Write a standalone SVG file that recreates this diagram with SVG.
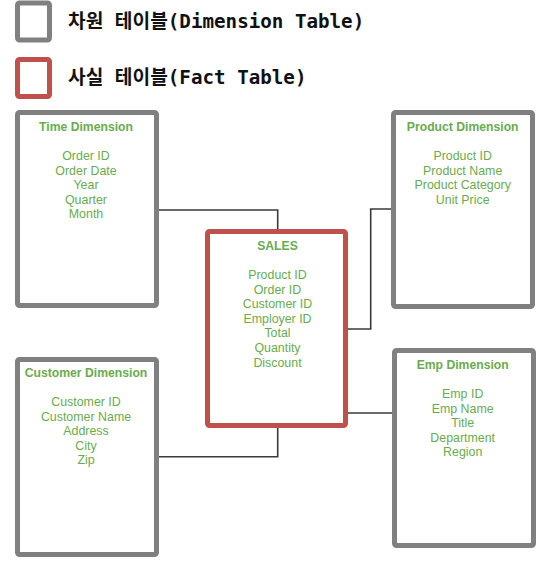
<svg xmlns="http://www.w3.org/2000/svg" width="552" height="573" viewBox="0 0 552 573">
<style>
.dim{fill:#fff;stroke:#808080;stroke-width:5}
.fact{fill:#fff;stroke:#c0504d;stroke-width:5}
.t{font-family:"Liberation Sans",Arial,sans-serif;font-size:12.2px;font-weight:bold;fill:#6aab4f;text-anchor:middle}
.i{font-family:"Liberation Sans",Arial,sans-serif;font-size:12.4px;fill:#6aab4f;text-anchor:middle}
.lg{font-family:"DejaVu Sans Mono","Noto Sans CJK KR",monospace;font-size:19.2px;font-weight:bold;fill:#111}
.c{fill:none;stroke:#3a3a3a;stroke-width:1.6}
</style>
<g id="legend">
<rect x="17.5" y="3" width="32" height="37" rx="2" fill="#fff" stroke="#808080" stroke-width="5"/>
<text class="lg" x="68" y="27.5">차원 테이블(Dimension Table)</text>
<rect x="17.5" y="59.5" width="32" height="37" rx="2" fill="#fff" stroke="#c0504d" stroke-width="5"/>
<text class="lg" x="68" y="83.5">사실 테이블(Fact Table)</text>
</g>
<g id="connectors">
<path class="c" d="M159 210H277.7V229"/>
<path class="c" d="M348 329H370.7V209H391"/>
<path class="c" d="M348 413H392"/>
<path class="c" d="M159 456.7H277.7V428"/>
</g>
<g id="time">
<rect class="dim" x="17.5" y="112.5" width="139" height="193" rx="2"/>
<text class="t" x="86" y="130.5">Time Dimension</text>
<text class="i" x="86" y="160">Order ID</text>
<text class="i" x="86" y="174.5">Order Date</text>
<text class="i" x="86" y="189">Year</text>
<text class="i" x="86" y="203.5">Quarter</text>
<text class="i" x="86" y="218">Month</text>
</g>
<g id="product">
<rect class="dim" x="393.5" y="112.5" width="139" height="194" rx="2"/>
<text class="t" x="462.7" y="130.5">Product Dimension</text>
<text class="i" x="462.7" y="160">Product ID</text>
<text class="i" x="462.7" y="174.5">Product Name</text>
<text class="i" x="462.7" y="189">Product Category</text>
<text class="i" x="462.7" y="203.5">Unit Price</text>
</g>
<g id="sales">
<rect class="fact" x="207.5" y="231.5" width="138" height="194" rx="2"/>
<text class="t" x="277.5" y="250">SALES</text>
<text class="i" x="277.5" y="279">Product ID</text>
<text class="i" x="277.5" y="293.6">Order ID</text>
<text class="i" x="277.5" y="308.2">Customer ID</text>
<text class="i" x="277.5" y="322.8">Employer ID</text>
<text class="i" x="277.5" y="337.4">Total</text>
<text class="i" x="277.5" y="352">Quantity</text>
<text class="i" x="277.5" y="366.6">Discount</text>
</g>
<g id="customer">
<rect class="dim" x="17.5" y="359.5" width="139" height="195" rx="2"/>
<text class="t" x="86" y="376.7">Customer Dimension</text>
<text class="i" x="86" y="406.4">Customer ID</text>
<text class="i" x="86" y="420.9">Customer Name</text>
<text class="i" x="86" y="435.4">Address</text>
<text class="i" x="86" y="449.9">City</text>
<text class="i" x="86" y="464.4">Zip</text>
</g>
<g id="emp">
<rect class="dim" x="394.5" y="350.5" width="139" height="195" rx="2"/>
<text class="t" x="462.7" y="369">Emp Dimension</text>
<text class="i" x="462.7" y="398">Emp ID</text>
<text class="i" x="462.7" y="412.5">Emp Name</text>
<text class="i" x="462.7" y="427">Title</text>
<text class="i" x="462.7" y="441.5">Department</text>
<text class="i" x="462.7" y="456">Region</text>
</g>
</svg>
